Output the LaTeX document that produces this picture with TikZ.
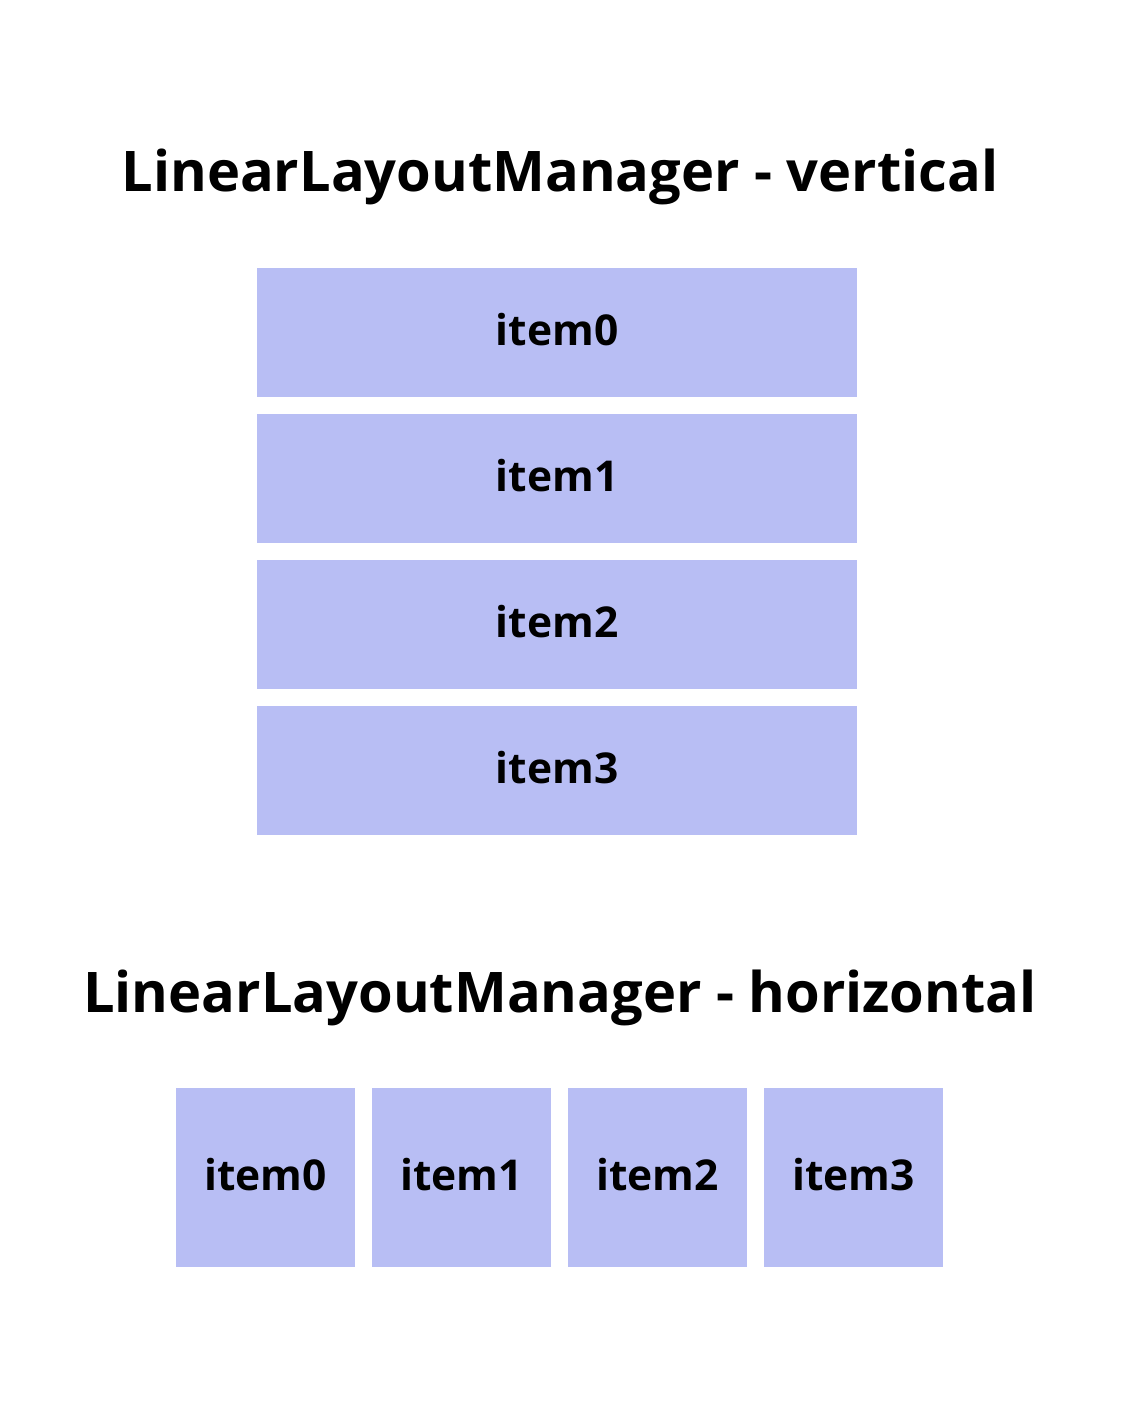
\documentclass[tikz,border=0pt]{standalone}
\usepackage{fontspec}
\setmainfont{Open Sans}[BoldFont={Open Sans Bold}]
\definecolor{itemfill}{RGB}{184,190,244}
\tikzset{
  itembox/.style={fill=itemfill, draw=none, inner sep=0pt, text depth=6pt, font=\fontsize{42.5}{46}\selectfont\bfseries, text=black},
  vbox/.style={itembox, minimum width=600pt, minimum height=129pt},
  hbox/.style={itembox, minimum width=179pt, minimum height=179pt},
  titletext/.style={font=\fontsize{56}{62}\selectfont\bfseries, anchor=base, inner sep=0pt}
}
\begin{document}
\begin{tikzpicture}[x=1pt,y=-1pt]
\useasboundingbox (0,0) rectangle (1120,1416);
\fill[white] (0,0) rectangle (1120,1416);
\node[titletext] (t1) at (560,191) {LinearLayoutManager - vertical};
\node[vbox] (v0) at (557,332.5) {item0};
\node[vbox] (v1) at (557,478.5) {item1};
\node[vbox] (v2) at (557,624.5) {item2};
\node[vbox] (v3) at (557,770.5) {item3};
\node[titletext] (t2) at (560,1012) {LinearLayoutManager - horizontal};
\node[hbox] (h0) at (265.5,1177.5) {item0};
\node[hbox] (h1) at (461.5,1177.5) {item1};
\node[hbox] (h2) at (657.5,1177.5) {item2};
\node[hbox] (h3) at (853.5,1177.5) {item3};
\end{tikzpicture}
\end{document}
